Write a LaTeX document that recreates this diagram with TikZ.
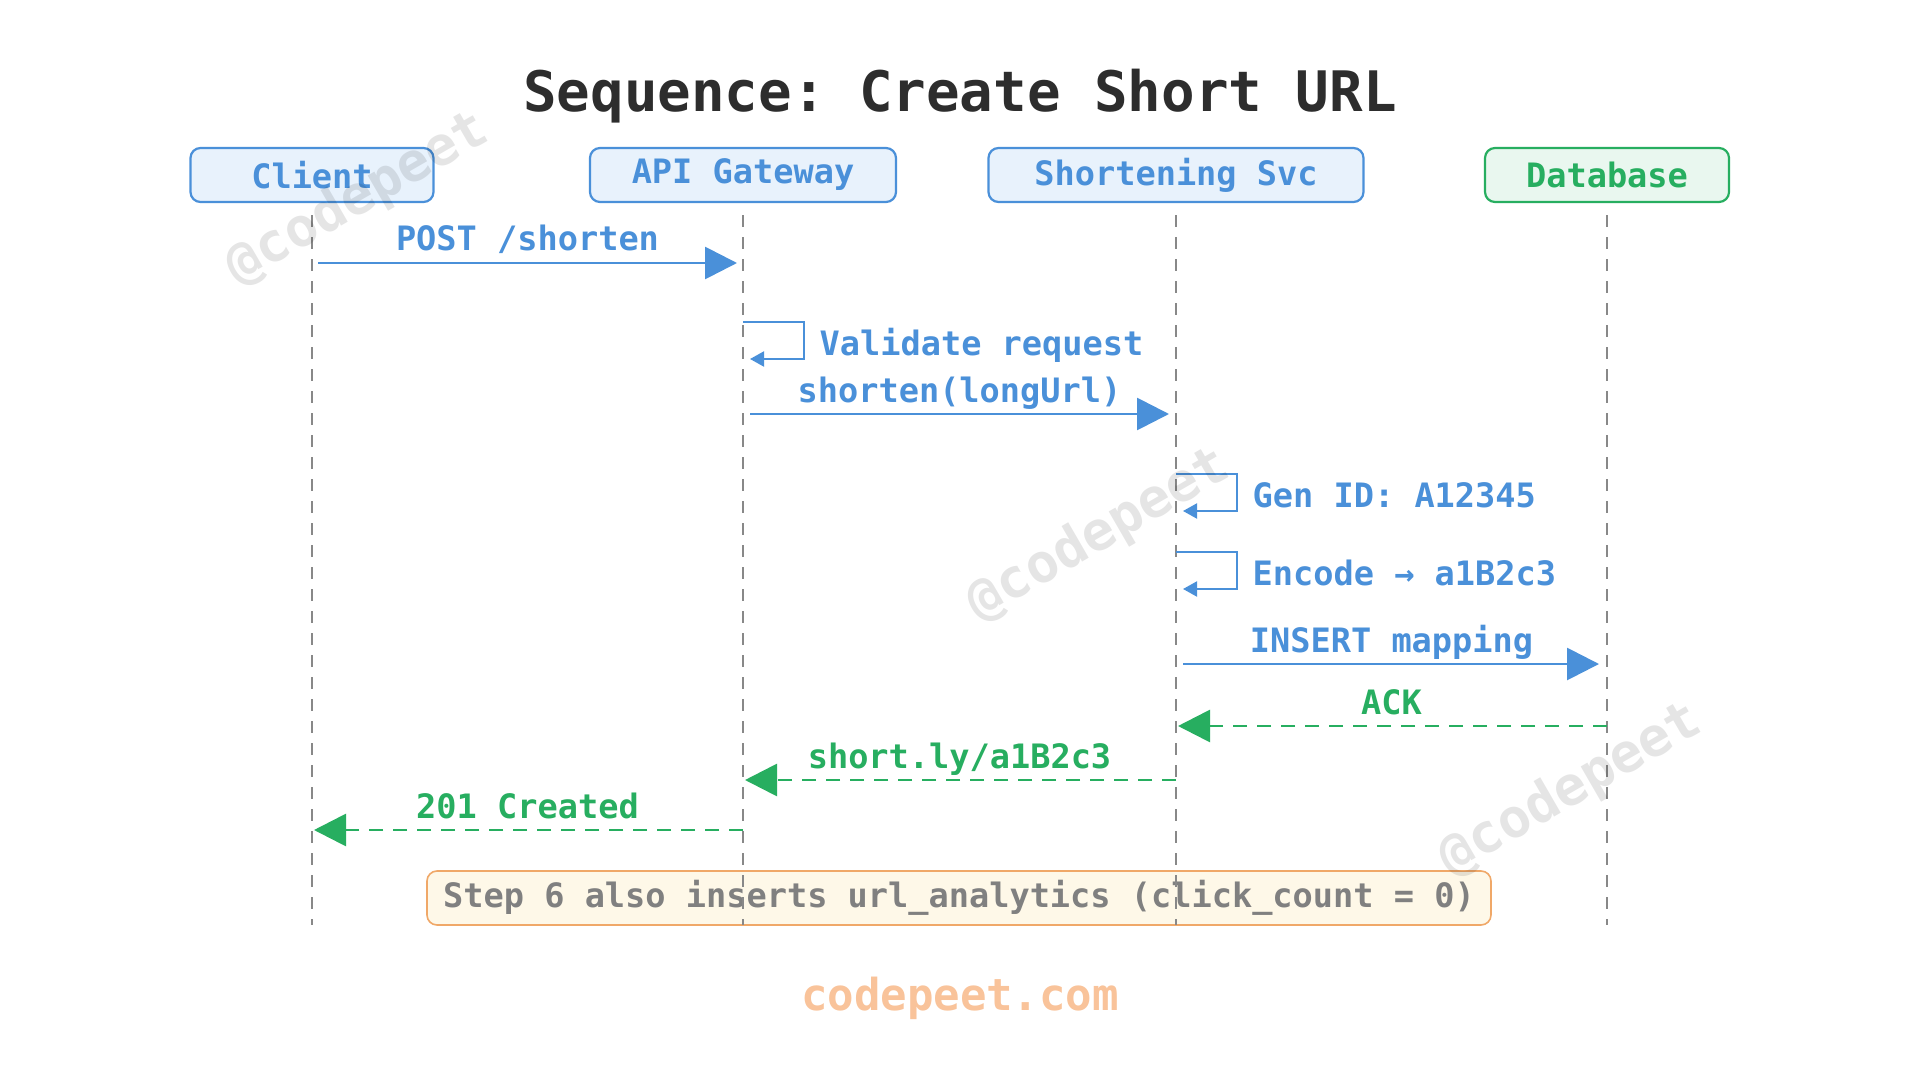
\documentclass[tikz,border=0pt]{standalone}
\usepackage{fontspec}
\setmonofont{DejaVu Sans Mono}
\usetikzlibrary{positioning, arrows.meta}
\definecolor{clrblue}{HTML}{4A90D9}
\definecolor{clrblue_fill}{HTML}{E8F2FC}
\definecolor{clrgreen}{HTML}{27AE60}
\definecolor{clrgreen_fill}{HTML}{E9F7EF}
\definecolor{clrtitle}{HTML}{2D2D2D}
\definecolor{clrlife}{HTML}{888888}
\definecolor{clrnote_fill}{HTML}{FEF8E8}
\definecolor{clrnote_border}{HTML}{F0A868}
\definecolor{clrnote_text}{HTML}{808080}
\definecolor{clrfooter}{HTML}{F9C39A}
\newcommand{\msgfont}{\ttfamily\bfseries\fontsize{16.8}{20}\selectfont}

\begin{document}
\begin{tikzpicture}[
    x=0.5pt, y=-0.5pt,
    every node/.style={font=\msgfont},
    head/.style={draw=clrblue, fill=clrblue_fill, text=clrblue, rounded corners=5pt,
                 minimum height=27pt, line width=1.1pt},
    headdb/.style={head, draw=clrgreen, fill=clrgreen_fill, text=clrgreen},
    lifeline/.style={draw=clrlife, line width=0.9pt, dash pattern=on 6pt off 5pt, shorten <=6pt},
    msg/.style={-{Triangle[length=16pt, width=16pt]}, color=clrblue, line width=1.4pt,
                shorten <=3pt, shorten >=3pt},
    reply/.style={-{Triangle[length=16pt, width=16pt]}, color=clrgreen, line width=1.4pt,
                  dash pattern=on 7pt off 5pt, shorten >=1pt},
    selfmsg/.style={-{Triangle[length=7pt, width=7.5pt]}, color=clrblue, line width=1pt},
    lbl/.style={anchor=base, yshift=6pt, text=clrblue},
    lblret/.style={lbl, text=clrgreen},
    selflbl/.style={anchor=base west, xshift=4pt, yshift=-7.5pt, text=clrblue},
    note/.style={draw=clrnote_border, fill=clrnote_fill, text=clrnote_text, rounded corners=5pt,
                 minimum width=532pt, minimum height=27pt, line width=0.8pt},
    wmark/.style={rotate=30, text=black, text opacity=0.1,
                  font=\ttfamily\bfseries\fontsize{27}{30}\selectfont},
]
\path[fill=white, use as bounding box] (0,0) rectangle (1920,1080);

\node[anchor=base, text=clrtitle, font=\ttfamily\bfseries\fontsize{27.9}{32}\selectfont] (title) at (960,112) {Sequence: Create Short URL};

% participants
\node[head, minimum width=121.5pt] (h_client) at (312,175) {Client};
\node[head, minimum width=153pt] (h_api) at (743,175) {API Gateway};
\node[head, minimum width=187.5pt] (h_svc) at (1176,175) {Shortening Svc};
\node[headdb, minimum width=122pt] (h_db) at (1607,175) {Database};

\node[note] (note) at (959,898) {Step 6 also inserts url\_analytics (click\_count = 0)};

\coordinate (ll_end) at (0,925);
\foreach \h in {h_client, h_api, h_svc, h_db}
    \draw[lifeline] (\h.south) -- (\h |- ll_end);

% message rows
\coordinate (row_1) at (0,263);
\coordinate (row_2) at (0,322);
\coordinate (row_3) at (0,414);
\coordinate (row_4) at (0,474);
\coordinate (row_5) at (0,552);
\coordinate (row_6) at (0,664);
\coordinate (row_7) at (0,726);
\coordinate (row_8) at (0,780);
\coordinate (row_9) at (0,830);

\draw[msg] (h_client |- row_1) -- node[lbl] {POST /shorten} (h_api |- row_1);
\draw[selfmsg] (h_api |- row_2) -- ++(61,0) -- node[selflbl] {Validate request} ++(0,37) -- ++(-54,0);
\draw[msg, shorten <=3.5pt, shorten >=3.5pt] (h_api |- row_3) -- node[lbl] {shorten(longUrl)} (h_svc |- row_3);
\draw[selfmsg] (h_svc |- row_4) -- ++(61,0) -- node[selflbl] {Gen ID: A12345} ++(0,37) -- ++(-54,0);
\draw[selfmsg] (h_svc |- row_5) -- ++(61,0) -- node[selflbl] {Encode → a1B2c3} ++(0,37) -- ++(-54,0);
\draw[msg, shorten <=3.5pt, shorten >=4pt] (h_svc |- row_6) -- node[lbl] {INSERT mapping} (h_db |- row_6);
\draw[reply] (h_db |- row_7) -- node[lblret] {ACK} (h_svc |- row_7);
\draw[reply] (h_svc |- row_8) -- node[lblret] {short.ly/a1B2c3} (h_api |- row_8);
\draw[reply] (h_api |- row_9) -- node[lblret] {201 Created} (h_client |- row_9);

\node[anchor=base, text=clrfooter, font=\ttfamily\bfseries\fontsize{22}{26}\selectfont] (footer) at (960,1010) {codepeet.com};

% watermarks
\foreach \wx/\wy [count=\i] in {358/199, 1099/535, 1571/790}
    \node[wmark] (wm_\i) at (\wx,\wy) {@codepeet};
\end{tikzpicture}
\end{document}
